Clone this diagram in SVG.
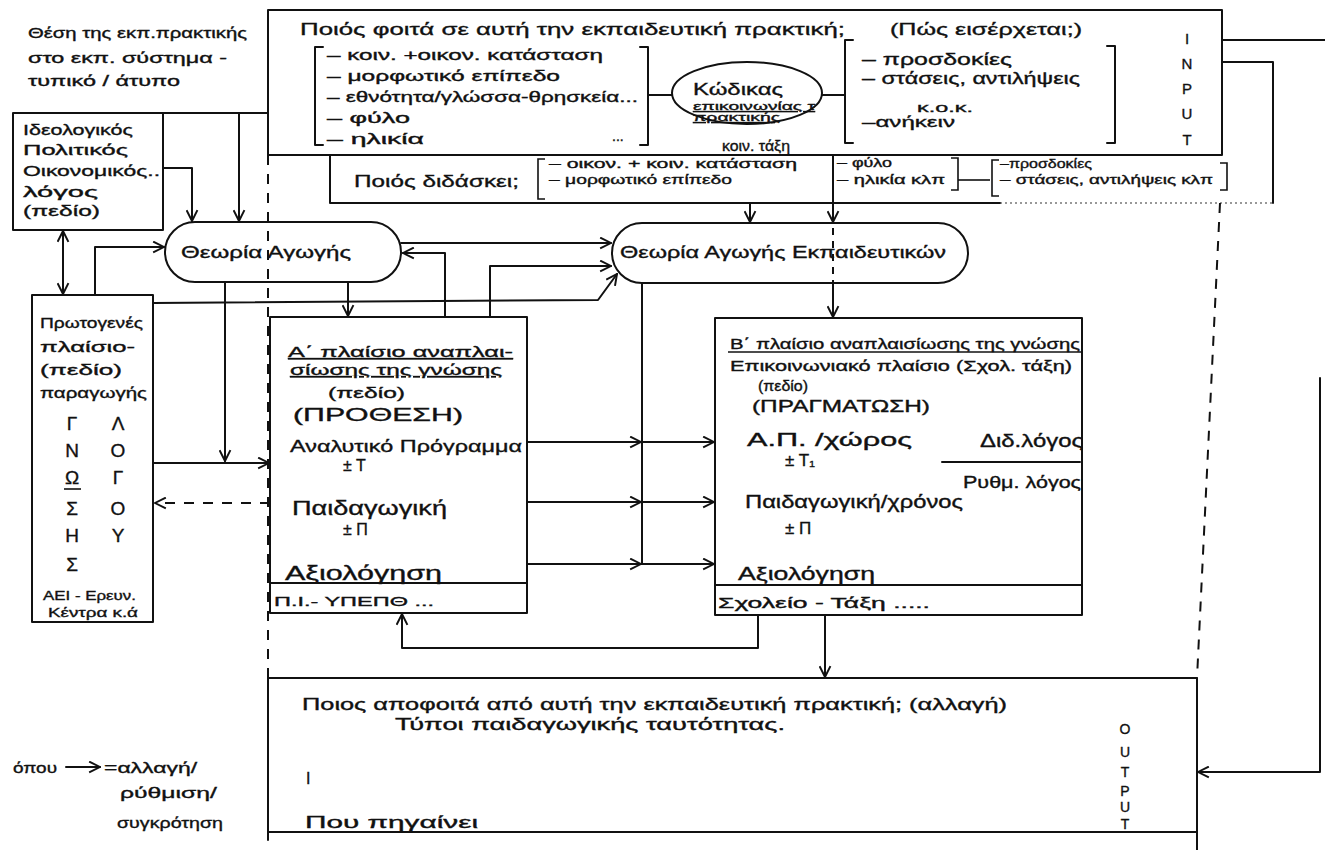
<svg xmlns="http://www.w3.org/2000/svg" width="1325" height="850" viewBox="0 0 1325 850">
<defs>
<style>
.t{font-family:"Liberation Sans","DejaVu Sans",sans-serif;fill:#111;stroke:#111;stroke-width:0.35;}
.ln{fill:none;stroke:#111;stroke-width:2;stroke-linecap:round;stroke-linejoin:round;}
.th{fill:none;stroke:#111;stroke-width:1.6;}
.ds{fill:none;stroke:#111;stroke-width:2;stroke-dasharray:10 9;}
.dt{fill:none;stroke:#333;stroke-width:1.2;stroke-dasharray:2 3;}
.u{text-decoration:underline;}
</style>
<marker id="a" viewBox="0 0 12 12" refX="11" refY="6" markerWidth="13" markerHeight="13" markerUnits="userSpaceOnUse" orient="auto-start-reverse">
<path d="M1,1 L11,6 L1,11" fill="none" stroke="#111" stroke-width="1.8"/>
</marker>
</defs>
<rect width="1325" height="850" fill="#fff"/>

<g id="context-note">
<text class="t" x="28" y="38" font-size="14" textLength="219" lengthAdjust="spacingAndGlyphs">Θέση της εκπ.πρακτικής</text>
<text class="t" x="28" y="63" font-size="14" textLength="199" lengthAdjust="spacingAndGlyphs">στο εκπ. σύστημα -</text>
<text class="t" x="28" y="86" font-size="14" textLength="152" lengthAdjust="spacingAndGlyphs">τυπικό / άτυπο</text>
</g>

<g id="input-box">
<rect class="ln" x="268" y="10" width="954" height="145"/>
<text class="t" x="300" y="35" font-size="17" textLength="545" lengthAdjust="spacingAndGlyphs">Ποιός φοιτά σε αυτή την εκπαιδευτική πρακτική;</text>
<text class="t" x="890" y="35" font-size="17" textLength="192" lengthAdjust="spacingAndGlyphs">(Πώς εισέρχεται;)</text>
<path class="ln" d="M323,47 H315 V145 H323"/>
<text class="t" x="327" y="60" font-size="14" textLength="276" lengthAdjust="spacingAndGlyphs">– κοιν. +οικον. κατάσταση</text>
<text class="t" x="327" y="81" font-size="14" textLength="233" lengthAdjust="spacingAndGlyphs">– μορφωτικό επίπεδο</text>
<text class="t" x="327" y="102" font-size="14" textLength="311" lengthAdjust="spacingAndGlyphs">– εθνότητα/γλώσσα-θρησκεία...</text>
<text class="t" x="327" y="123" font-size="14" textLength="83" lengthAdjust="spacingAndGlyphs">– φύλο</text>
<text class="t" x="327" y="144" font-size="14" textLength="97" lengthAdjust="spacingAndGlyphs">– ηλικία</text>
<text class="t" x="612" y="141" font-size="14">...</text>
<path class="ln" d="M640,47 H648 V145 H640"/>
<path class="ln" d="M648,95 H672"/>
<ellipse class="ln" cx="747" cy="93" rx="75" ry="31"/>
<text class="t" x="693" y="95" font-size="17" textLength="90" lengthAdjust="spacingAndGlyphs">Κώδικας</text>
<text class="t u" x="693" y="110" font-size="11" textLength="122" lengthAdjust="spacingAndGlyphs">επικοινωνίας τ</text>
<text class="t u" x="693" y="121" font-size="11" textLength="87" lengthAdjust="spacingAndGlyphs">πρακτικής</text>
<text class="t" x="722" y="151" font-size="15" textLength="68" lengthAdjust="spacingAndGlyphs">κοιν. τάξη</text>
<path class="ln" d="M822,95 H845"/>
<path class="ln" d="M853,40 H845 V143 H853"/>
<text class="t" x="862" y="65" font-size="16" textLength="150" lengthAdjust="spacingAndGlyphs">– προσδοκίες</text>
<text class="t" x="862" y="84" font-size="16" textLength="218" lengthAdjust="spacingAndGlyphs">– στάσεις, αντιλήψεις</text>
<text class="t" x="917" y="112" font-size="13" textLength="56" lengthAdjust="spacingAndGlyphs">κ.ο.κ.</text>
<text class="t" x="862" y="127" font-size="15" textLength="93" lengthAdjust="spacingAndGlyphs">–ανήκειν</text>
<path class="ln" d="M1107,46 H1115 V143 H1107"/>
<g class="t" font-size="15" text-anchor="middle">
<text x="1187" y="44">I</text><text x="1187" y="69">N</text><text x="1187" y="94">P</text><text x="1187" y="119">U</text><text x="1187" y="145">T</text>
</g>
</g>

<g id="teacher-box">
<path class="ln" d="M330,155 V203 H1000"/>
<path class="dt" d="M1000,203 H1273"/>
<text class="t" x="354" y="187" font-size="17" textLength="165" lengthAdjust="spacingAndGlyphs">Ποιός διδάσκει;</text>
<path class="th" d="M545,159 H538 V199 H545"/>
<text class="t" x="549" y="168" font-size="12" textLength="248" lengthAdjust="spacingAndGlyphs">– οικον. + κοιν. κατάσταση</text>
<text class="t" x="549" y="184" font-size="12" textLength="183" lengthAdjust="spacingAndGlyphs">– μορφωτικό επίπεδο</text>
<text class="t" x="837" y="167" font-size="12" textLength="55" lengthAdjust="spacingAndGlyphs">– φύλο</text>
<text class="t" x="837" y="184" font-size="12" textLength="108" lengthAdjust="spacingAndGlyphs">– ηλικία κλπ</text>
<path class="th" d="M951,158 H958 V190 H951"/>
<path class="th" d="M958,180 H990"/>
<path class="th" d="M999,160 H992 V196 H999"/>
<text class="t" x="1000" y="168" font-size="12" textLength="92" lengthAdjust="spacingAndGlyphs">–προσδοκίες</text>
<text class="t" x="1000" y="184" font-size="12" textLength="213" lengthAdjust="spacingAndGlyphs">– στάσεις, αντιλήψεις κλπ</text>
<path class="th" d="M1220,163 H1227 V190 H1220"/>
</g>

<g id="discourse-box">
<rect class="ln" x="13" y="113" width="150" height="117"/>
<text class="t" x="23" y="135" font-size="15" textLength="110" lengthAdjust="spacingAndGlyphs">Ιδεολογικός</text>
<text class="t" x="23" y="155" font-size="15" textLength="105" lengthAdjust="spacingAndGlyphs">Πολιτικός</text>
<text class="t" x="23" y="176" font-size="15" textLength="137" lengthAdjust="spacingAndGlyphs">Οικονομικός..</text>
<text class="t" x="23" y="197" font-size="15" textLength="75" lengthAdjust="spacingAndGlyphs">λόγος</text>
<text class="t" x="23" y="216" font-size="15" textLength="77" lengthAdjust="spacingAndGlyphs">(πεδίο)</text>
</g>

<g id="primary-field">
<rect class="ln" x="32" y="295" width="121" height="327"/>
<text class="t" x="40" y="328" font-size="15" textLength="103" lengthAdjust="spacingAndGlyphs">Πρωτογενές</text>
<text class="t" x="40" y="352" font-size="15" textLength="95" lengthAdjust="spacingAndGlyphs">πλαίσιο-</text>
<text class="t" x="40" y="375" font-size="15" textLength="82" lengthAdjust="spacingAndGlyphs">(πεδίο)</text>
<text class="t" x="40" y="398" font-size="15" textLength="107" lengthAdjust="spacingAndGlyphs">παραγωγής</text>
<g class="t" font-size="19" text-anchor="middle">
<text x="72" y="430">Γ</text><text x="72" y="457">Ν</text><text x="72" y="484">Ω</text><text x="72" y="515">Σ</text><text x="72" y="542">Η</text><text x="72" y="571">Σ</text>
<text x="118" y="430">Λ</text><text x="118" y="457">Ο</text><text x="118" y="484">Γ</text><text x="118" y="515">Ο</text><text x="118" y="542">Υ</text>
</g>
<path class="th" d="M64,489 H81"/>
<text class="t" x="43" y="600" font-size="13" textLength="93" lengthAdjust="spacingAndGlyphs">ΑΕΙ - Ερευν.</text>
<text class="t" x="48" y="617" font-size="13" textLength="90" lengthAdjust="spacingAndGlyphs">Κέντρα κ.ά</text>
</g>

<g id="theory-education">
<rect class="ln" x="165" y="222" width="236" height="60" rx="30"/>
<text class="t" x="181" y="258" font-size="16" textLength="170" lengthAdjust="spacingAndGlyphs">Θεωρία Αγωγής</text>
</g>

<g id="theory-teacher-education">
<rect class="ln" x="612" y="223" width="356" height="60" rx="30"/>
<text class="t" x="620" y="258" font-size="16" textLength="326" lengthAdjust="spacingAndGlyphs">Θεωρία Αγωγής Εκπαιδευτικών</text>
</g>

<g id="frame-a">
<rect class="ln" x="270" y="317" width="257" height="296"/>
<path class="ln" d="M270,583 H527"/>
<text class="t u" x="288" y="357" font-size="15" textLength="225" lengthAdjust="spacingAndGlyphs">Α΄ πλαίσιο αναπλαι-</text>
<text class="t u" x="290" y="375" font-size="15" textLength="212" lengthAdjust="spacingAndGlyphs">σίωσης της γνώσης</text>
<text class="t" x="328" y="398" font-size="14" textLength="77" lengthAdjust="spacingAndGlyphs">(πεδίο)</text>
<text class="t" x="293" y="421" font-size="18" textLength="170" lengthAdjust="spacingAndGlyphs">(ΠΡΟΘΕΣΗ)</text>
<text class="t" x="290" y="452" font-size="17" textLength="232" lengthAdjust="spacingAndGlyphs">Αναλυτικό Πρόγραμμα</text>
<text class="t" x="343" y="471" font-size="16">± Τ</text>
<text class="t" x="292" y="515" font-size="20" textLength="155" lengthAdjust="spacingAndGlyphs">Παιδαγωγική</text>
<text class="t" x="343" y="535" font-size="16">± Π</text>
<text class="t" x="285" y="580" font-size="20" textLength="157" lengthAdjust="spacingAndGlyphs">Αξιολόγηση</text>
<text class="t" x="274" y="606" font-size="13" textLength="160" lengthAdjust="spacingAndGlyphs">Π.Ι.- ΥΠΕΠΘ ...</text>
</g>

<g id="frame-b">
<rect class="ln" x="715" y="318" width="367" height="297"/>
<path class="ln" d="M715,585 H1082"/>
<path class="th" d="M728,352 H1083"/>
<text class="t" x="730" y="349" font-size="14" textLength="350" lengthAdjust="spacingAndGlyphs">Β΄ πλαίσιο αναπλαισίωσης της γνώσης</text>
<text class="t" x="730" y="371" font-size="14" textLength="342" lengthAdjust="spacingAndGlyphs">Επικοινωνιακό πλαίσιο (Σχολ. τάξη)</text>
<text class="t" x="758" y="391" font-size="14" textLength="50" lengthAdjust="spacingAndGlyphs">(πεδίο)</text>
<text class="t" x="752" y="412" font-size="16" textLength="178" lengthAdjust="spacingAndGlyphs">(ΠΡΑΓΜΑΤΩΣΗ)</text>
<text class="t" x="747" y="446" font-size="18" textLength="165" lengthAdjust="spacingAndGlyphs">Α.Π. /χώρος</text>
<text class="t" x="785" y="466" font-size="17">± Τ₁</text>
<text class="t" x="980" y="447" font-size="18" textLength="103" lengthAdjust="spacingAndGlyphs">Διδ.λόγος</text>
<path class="ln" d="M942,462 H1080"/>
<text class="t" x="963" y="488" font-size="16" textLength="118" lengthAdjust="spacingAndGlyphs">Ρυθμ. λόγος</text>
<text class="t" x="745" y="508" font-size="18" textLength="218" lengthAdjust="spacingAndGlyphs">Παιδαγωγική/χρόνος</text>
<text class="t" x="785" y="534" font-size="17">± Π</text>
<text class="t" x="738" y="580" font-size="18" textLength="137" lengthAdjust="spacingAndGlyphs">Αξιολόγηση</text>
<text class="t" x="718" y="608" font-size="14" textLength="212" lengthAdjust="spacingAndGlyphs">Σχολείο - Τάξη .....</text>
</g>

<g id="output-box">
<path class="ln" d="M268,678 H1197 V850 M268,678 V840 M268,832 H1197"/>
<text class="t" x="302" y="710" font-size="16" textLength="705" lengthAdjust="spacingAndGlyphs">Ποιος αποφοιτά από αυτή την εκπαιδευτική πρακτική; (αλλαγή)</text>
<text class="t" x="395" y="730" font-size="16" textLength="390" lengthAdjust="spacingAndGlyphs">Τύποι παιδαγωγικής ταυτότητας.</text>
<text class="t" x="306" y="784" font-size="16">I</text>
<text class="t" x="305" y="828" font-size="16" textLength="173" lengthAdjust="spacingAndGlyphs">Που πηγαίνει</text>
<g class="t" font-size="14" text-anchor="middle">
<text x="1125" y="734">O</text><text x="1125" y="757">U</text><text x="1125" y="777">T</text><text x="1125" y="796">P</text><text x="1125" y="812">U</text><text x="1125" y="829">T</text>
</g>
</g>

<g id="legend">
<text class="t" x="13" y="773" font-size="15" textLength="44" lengthAdjust="spacingAndGlyphs">όπου</text>
<path class="ln" d="M66,767 H100" marker-end="url(#a)"/>
<text class="t" x="104" y="773" font-size="15" textLength="93" lengthAdjust="spacingAndGlyphs">=αλλαγή/</text>
<text class="t" x="120" y="798" font-size="15" textLength="97" lengthAdjust="spacingAndGlyphs">ρύθμιση/</text>
<text class="t" x="117" y="828" font-size="15" textLength="106" lengthAdjust="spacingAndGlyphs">συγκρότηση</text>
</g>

<g id="connectors">
<path class="ds" d="M268,155 V678"/>
<path class="ds" d="M1220,203 L1197,678"/>
<path class="ln" d="M1222,40 H1325"/>
<path class="ln" d="M1222,62 H1273 V203"/>
<path class="ln" d="M163,168 H192 V221" marker-end="url(#a)"/>
<path class="ln" d="M63,294 V231" marker-start="url(#a)" marker-end="url(#a)"/>
<path class="ln" d="M95,295 V247 H164" marker-end="url(#a)"/>
<path class="ln" d="M163,113 H268"/>
<path class="ln" d="M239,113 V221" marker-end="url(#a)"/>
<path class="ln" d="M401,243 H611" marker-end="url(#a)"/>
<path class="ln" d="M445,317 V253 H403" marker-end="url(#a)"/>
<path class="ln" d="M490,317 V266 H611" marker-end="url(#a)"/>
<path class="ln" d="M153,303 L598,300 L617,274" marker-end="url(#a)"/>
<path class="ln" d="M348,282 V316" marker-end="url(#a)"/>
<path class="ln" d="M225,282 V461" marker-end="url(#a)"/>
<path class="ln" d="M153,463 H269" marker-end="url(#a)"/>
<path class="ds" d="M270,503 H155" marker-end="url(#a)"/>
<path class="ln" d="M642,283 V564"/>
<path class="ln" d="M527,442 H641" marker-end="url(#a)"/>
<path class="ln" d="M527,502 H641" marker-end="url(#a)"/>
<path class="ln" d="M527,564 H641" marker-end="url(#a)"/>
<path class="ln" d="M642,442 H714" marker-end="url(#a)"/>
<path class="ln" d="M642,502 H714" marker-end="url(#a)"/>
<path class="ln" d="M642,564 H714" marker-end="url(#a)"/>
<path class="ln" d="M750,203 V222" marker-end="url(#a)"/>
<path class="ln" d="M833,155 V222" marker-end="url(#a)"/>
<path fill="none" stroke="#111" stroke-width="2" stroke-dasharray="7 6" d="M833,228 V282"/>
<path class="ln" d="M833,283 V317" marker-end="url(#a)"/>
<path class="ln" d="M758,615 V648 H402 V614" marker-end="url(#a)"/>
<path class="ln" d="M825,615 V677" marker-end="url(#a)"/>
<path class="ln" d="M1320,378 V772 H1198" marker-end="url(#a)"/>
</g>
</svg>
